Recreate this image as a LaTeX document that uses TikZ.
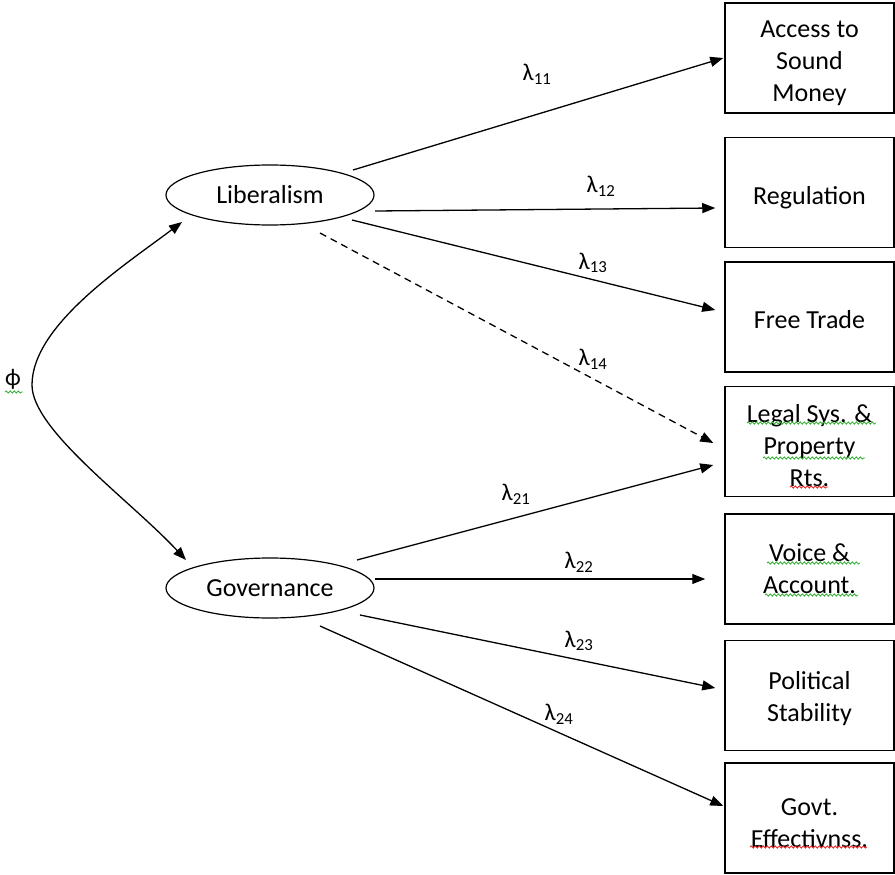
\documentclass[tikz,border=0pt]{standalone}
\usepackage{fontspec}
\setmainfont{Carlito}
\usetikzlibrary{shapes.geometric,arrows.meta,decorations.pathmorphing}
\definecolor{spellgreen}{RGB}{60,175,60}
\definecolor{spellred}{RGB}{230,40,40}
\begin{document}
\begin{tikzpicture}[x=1pt,y=-1pt,
 box/.style 2 args={draw,line width=1.5pt,minimum width=169pt,minimum height=110pt,inner sep=0pt,
   label={[boxtext,yshift=#2]center:#1}},
 boxtext/.style={align=center,font=\fontsize{26}{32}\selectfont,inner sep=0pt},
 lat/.style={draw,ellipse,line width=1.2pt,minimum width=208pt,minimum height=60pt,inner sep=0pt,font=\fontsize{26}{32}\selectfont},
 arr/.style={line width=1.3pt,-{Triangle[length=13pt,width=10pt]}},
 dasharr/.style={arr,dash pattern=on 7pt off 5pt},
 lam/.style={font=\fontsize{24}{28}\selectfont,inner sep=0pt},
 squig/.style={line width=0.9pt,decorate,decoration={snake,segment length=4pt,amplitude=1.1pt}}]
\useasboundingbox (0,0) rectangle (895,875);
% indicator boxes
\node[box={Access to\\Sound\\Money}{-5.5pt}] (b1) at (809.5,58) {};
\node[box={Regulation}{-5pt}] (b2) at (809.5,192.5) {};
\node[box={Free Trade}{-2.5pt}] (b3) at (809.5,317) {};
\node[box={Legal Sys. \&\\Property\\Rts.}{-4.5pt}] (b4) at (809.5,441.5) {};
\node[box={Voice \&\\Account.}{0.5pt}] (b5) at (809.5,569) {};
\node[box={Political\\Stability}{-3pt}] (b6) at (809.5,695.5) {};
\node[box={Govt.\\Effectivnss.}{-5.5pt}] (b7) at (809.5,818) {};
% latent variables
\node[lat] (lib) at (270,195) {Liberalism};
\node[lat] (gov) at (270,588) {Governance};
% loadings
\draw[arr] ([shift={(83,-25)}]lib.center) -- ([xshift=-1pt]b1.west);
\draw[arr] ([shift={(105,16)}]lib.center) -- ([shift={(-9,15.5)}]b2.west);
\draw[arr] ([shift={(82,25)}]lib.center) -- ([shift={(-9,-7)}]b3.west);
\draw[dasharr] ([shift={(50,38)}]lib.center) -- ([shift={(-11,1.5)}]b4.west);
\draw[arr] ([shift={(87,-28)}]gov.center) -- ([shift={(-11,23.5)}]b4.west);
\draw[arr] ([shift={(105,-9)}]gov.center) -- ([shift={(-19,10)}]b5.west);
\draw[arr] ([shift={(90,27)}]gov.center) -- ([shift={(-9,-7.5)}]b6.west);
\draw[arr] ([shift={(50,38)}]gov.center) -- ([shift={(-1,-12)}]b7.west);
% labels
\node[lam] (l11) at (537,74) {λ\textsubscript{11}};
\node[lam] (l12) at (601,186) {λ\textsubscript{12}};
\node[lam] (l13) at (593,263) {λ\textsubscript{13}};
\node[lam] (l14) at (593,359) {λ\textsubscript{14}};
\node[lam] (l21) at (516,494) {λ\textsubscript{21}};
\node[lam] (l22) at (579,562) {λ\textsubscript{22}};
\node[lam] (l23) at (579,641) {λ\textsubscript{23}};
\node[lam] (l24) at (559,714) {λ\textsubscript{24}};
% covariance
\node[lam] (phi) at (13,379) {ϕ};
\draw[arr,{Triangle[length=13pt,width=10pt]}-{Triangle[length=13pt,width=10pt]}]
  ([shift={(-88,27)}]lib.center) .. controls (125,265) and (32,325) .. (32,385)
  .. controls (32,430) and (130,500) .. ([shift={(-84,-28)}]gov.center);
% spell-check underlines
\draw[squig,spellgreen] (5,392) -- (23,392);
\draw[squig,spellgreen] (747,423) -- (876,423);
\draw[squig,spellgreen] (763,458) -- (865,458);
\draw[squig,spellred] (790,487) -- (828,487);
\draw[squig,spellgreen] (767,563) -- (860,563);
\draw[squig,spellgreen] (765,595) -- (858,595);
\draw[squig,spellred] (750,847) -- (867,847);
\end{tikzpicture}
\end{document}
